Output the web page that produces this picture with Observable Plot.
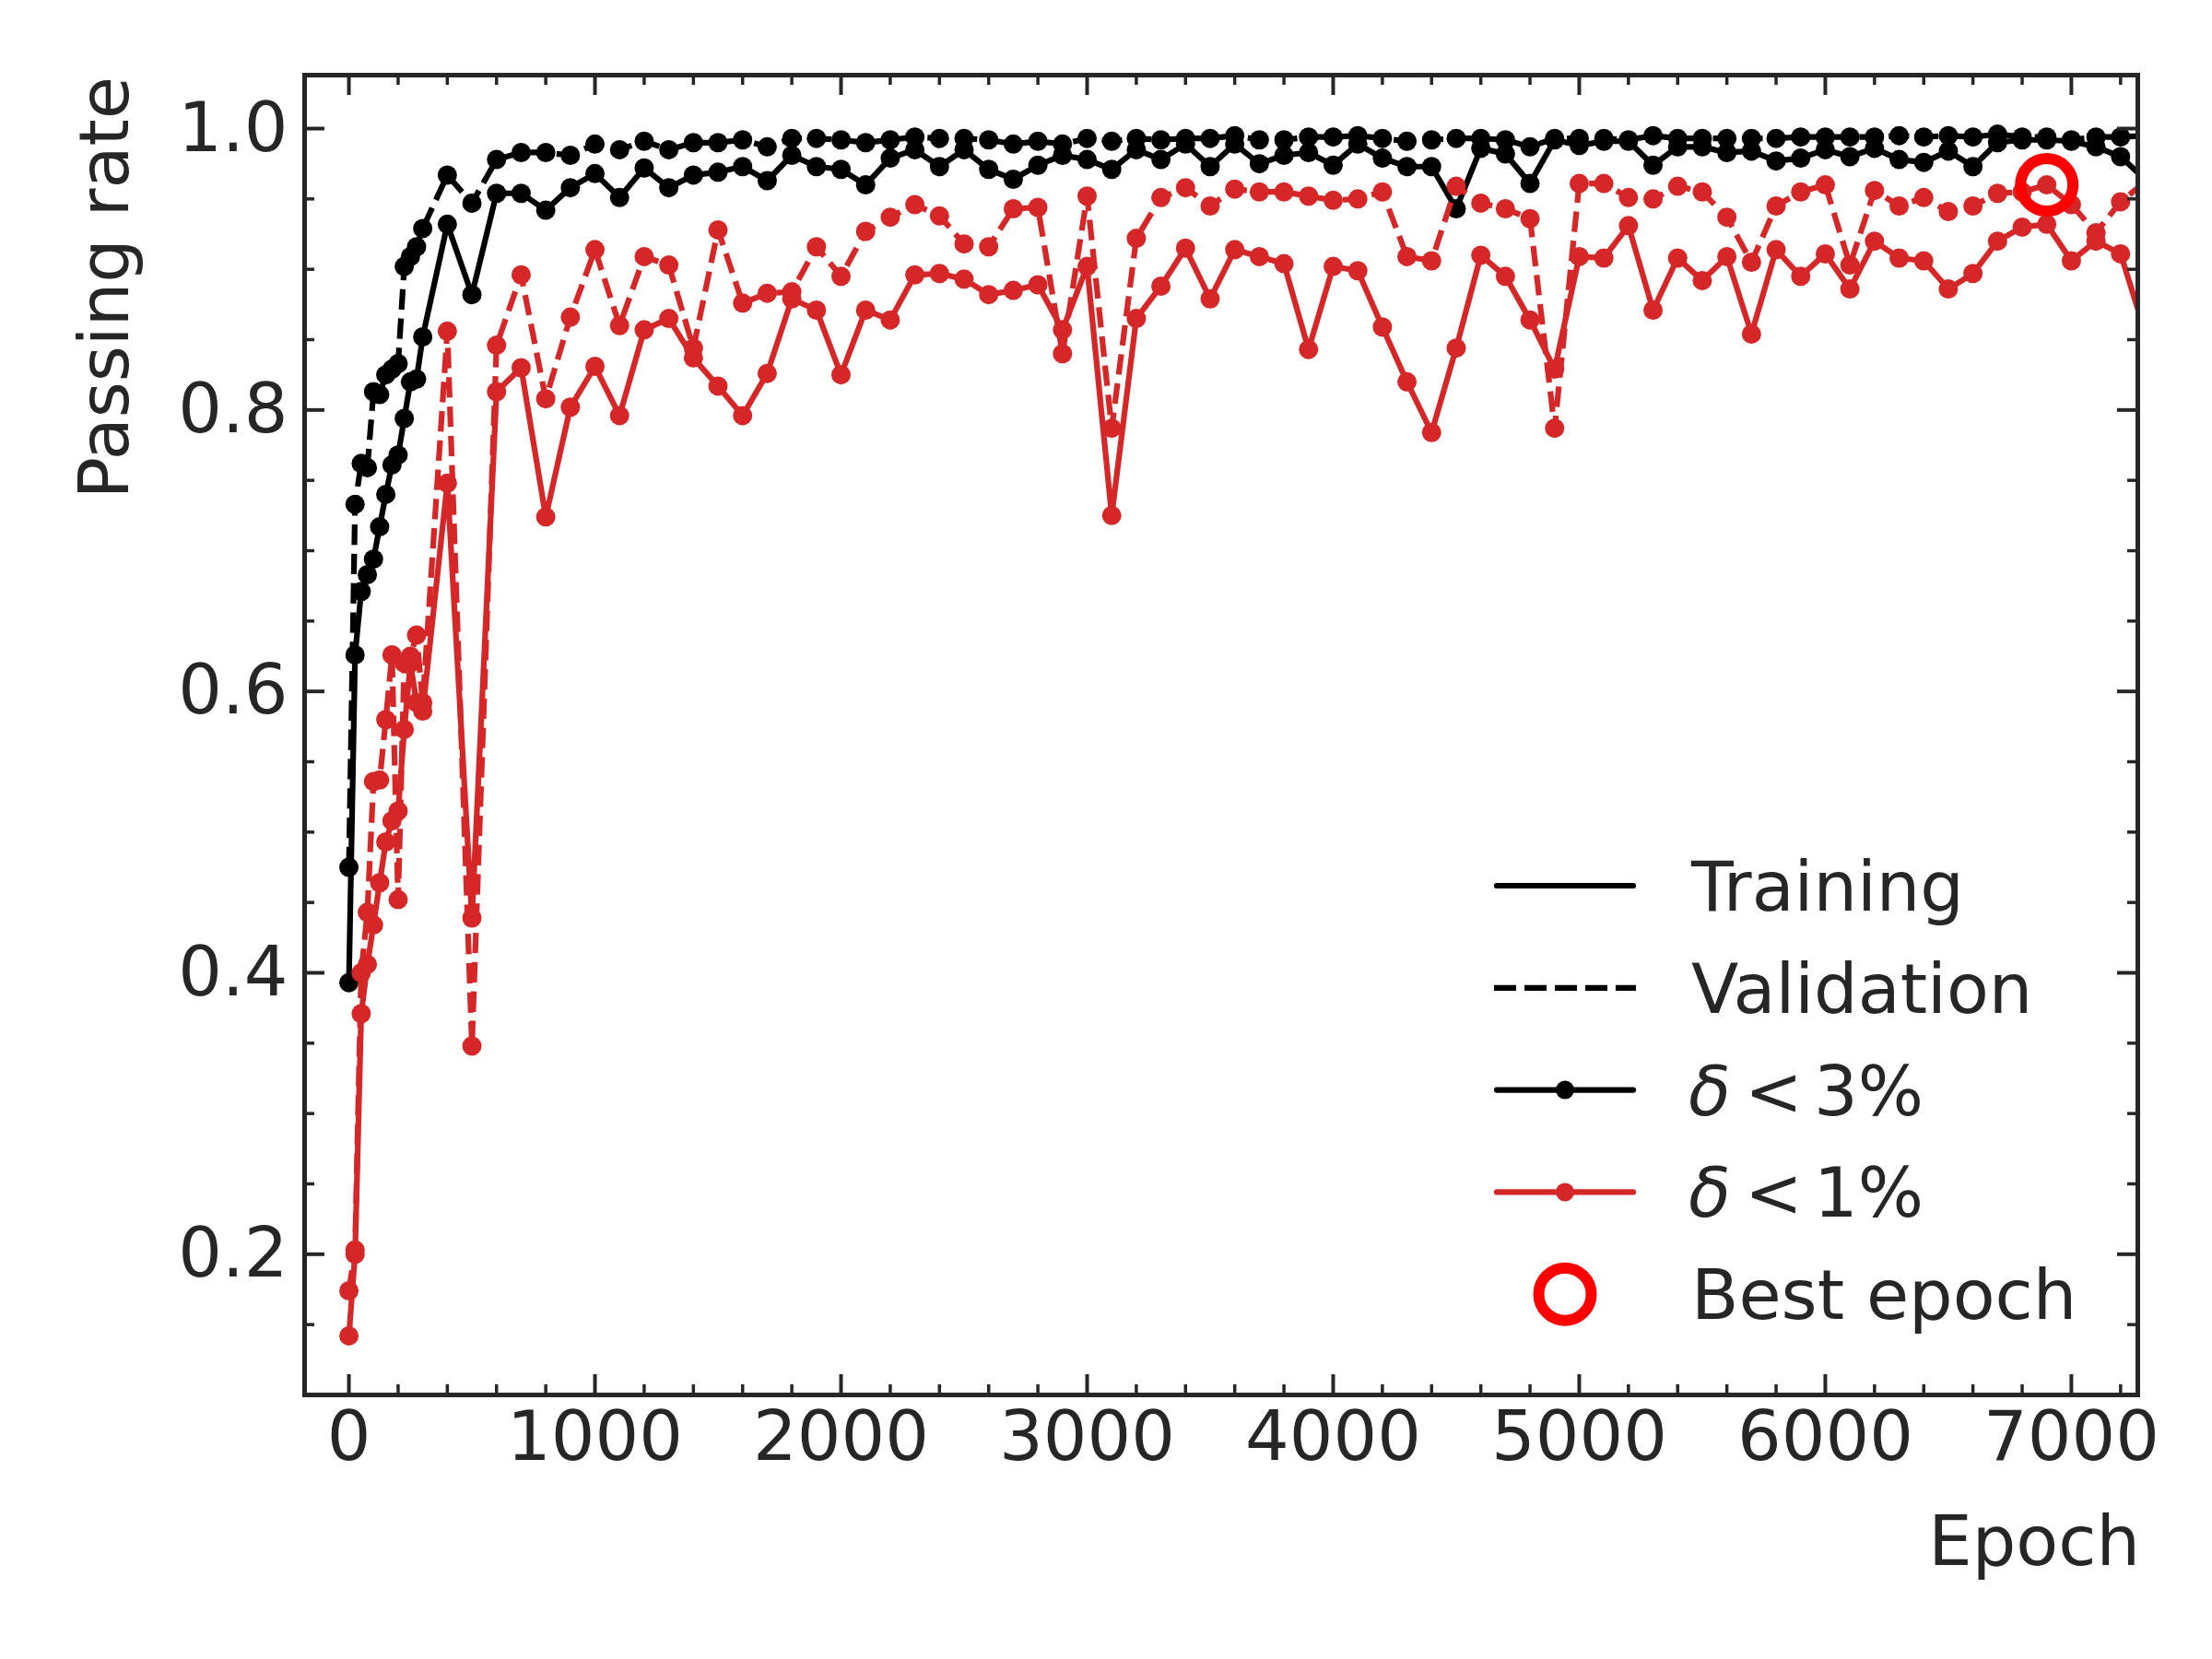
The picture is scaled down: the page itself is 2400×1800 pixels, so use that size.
<!DOCTYPE html>
<html>
<head>
<meta charset="utf-8">
<script src="https://cdn.jsdelivr.net/npm/d3@7"></script>
<script src="https://cdn.jsdelivr.net/npm/@observablehq/plot@0.6"></script>
<style>
  html, body { margin: 0; padding: 0; background: #ffffff; }
  #chart svg { display: block; }
</style>
</head>
<body>
<div id="chart"></div>
<script>
// ---------------- data ----------------
const epochs = [0, 25, 50, 75, 100, 125, 150, 175, 200, 225, 250, 275, 300, 400, 500,
  600, 700, 800, 900, 1000, 1100, 1200, 1300, 1400, 1500, 1600, 1700, 1800, 1900, 2000, 2100, 2200, 2300,
  2400, 2500, 2600, 2700, 2800, 2900, 3000, 3100, 3200, 3300, 3400, 3500, 3600, 3700, 3800, 3900, 4000,
  4100, 4200, 4300, 4400, 4500, 4600, 4700, 4800, 4900, 5000, 5100, 5200, 5300, 5400, 5500, 5600, 5700,
  5800, 5900, 6000, 6100, 6200, 6300, 6400, 6500, 6600, 6700, 6800, 6900, 7000, 7100, 7200, 7300];

// Training, delta < 3%
const train3 = [0.393, 0.626, 0.671, 0.683, 0.694, 0.717, 0.740, 0.761, 0.768, 0.794, 0.820, 0.822, 0.852, 0.932, 0.882,
  0.954, 0.954, 0.942, 0.958, 0.968, 0.951, 0.972, 0.958, 0.967, 0.969, 0.973, 0.963, 0.981, 0.973, 0.971, 0.960, 0.979, 0.985,
  0.973, 0.985, 0.971, 0.964, 0.974, 0.981, 0.978, 0.971, 0.985, 0.978, 0.989, 0.973, 0.989, 0.975, 0.981, 0.983, 0.974,
  0.989, 0.979, 0.973, 0.973, 0.943, 0.986, 0.982, 0.961, 0.992, 0.988, 0.991, 0.991, 0.974, 0.987, 0.987, 0.983, 0.984,
  0.977, 0.979, 0.985, 0.980, 0.986, 0.978, 0.976, 0.984, 0.973, 0.990, 0.992, 0.992, 0.991, 0.987, 0.980, 0.964];

// Validation, delta < 3%
const val3 = [0.475, 0.733, 0.762, 0.759, 0.813, 0.811, 0.825, 0.829, 0.833, 0.902, 0.909, 0.916, 0.929, 0.967, 0.947,
  0.978, 0.983, 0.983, 0.981, 0.989, 0.985, 0.991, 0.985, 0.990, 0.990, 0.992, 0.987, 0.993, 0.993, 0.992, 0.990, 0.992, 0.994,
  0.993, 0.993, 0.992, 0.989, 0.991, 0.989, 0.993, 0.991, 0.993, 0.992, 0.993, 0.993, 0.995, 0.992, 0.992, 0.994, 0.994,
  0.995, 0.993, 0.991, 0.992, 0.993, 0.993, 0.992, 0.987, 0.993, 0.993, 0.993, 0.992, 0.995, 0.993, 0.993, 0.993, 0.993,
  0.993, 0.994, 0.994, 0.994, 0.994, 0.995, 0.994, 0.995, 0.994, 0.996, 0.994, 0.994, 0.992, 0.994, 0.994, 0.995];

// Training, delta < 1%
const train1 = [0.142, 0.200, 0.371, 0.406, 0.434, 0.464, 0.493, 0.508, 0.515, 0.573, 0.620, 0.592, 0.586, 0.748, 0.439,
  0.813, 0.830, 0.724, 0.802, 0.831, 0.796, 0.857, 0.865, 0.837, 0.817, 0.796, 0.826, 0.879, 0.871, 0.825, 0.871, 0.864, 0.896,
  0.897, 0.893, 0.882, 0.885, 0.889, 0.857, 0.902, 0.725, 0.865, 0.888, 0.915, 0.879, 0.914, 0.909, 0.904, 0.843, 0.902,
  0.899, 0.859, 0.820, 0.784, 0.844, 0.910, 0.895, 0.864, 0.829, 0.909, 0.908, 0.931, 0.871, 0.908, 0.892, 0.909, 0.854,
  0.914, 0.895, 0.911, 0.886, 0.920, 0.908, 0.906, 0.886, 0.897, 0.920, 0.930, 0.932, 0.906, 0.920, 0.911, 0.855];

// Validation, delta < 1%
const val1 = [0.174, 0.203, 0.400, 0.443, 0.536, 0.537, 0.580, 0.626, 0.452, 0.620, 0.625, 0.640, 0.592, 0.856, 0.348,
  0.846, 0.896, 0.808, 0.866, 0.914, 0.860, 0.909, 0.903, 0.844, 0.928, 0.876, 0.883, 0.884, 0.916, 0.895, 0.927, 0.937, 0.946,
  0.938, 0.918, 0.916, 0.943, 0.944, 0.840, 0.952, 0.787, 0.922, 0.951, 0.958, 0.945, 0.957, 0.955, 0.955, 0.952, 0.949,
  0.950, 0.955, 0.909, 0.906, 0.959, 0.947, 0.943, 0.936, 0.787, 0.961, 0.961, 0.951, 0.950, 0.959, 0.955, 0.937, 0.905,
  0.945, 0.955, 0.960, 0.903, 0.956, 0.945, 0.951, 0.941, 0.945, 0.954, 0.955, 0.960, 0.946, 0.926, 0.948, 0.962];

const bestEpoch = [6900];
const bestValue = [0.960];

const xMajorTicks = [0, 1000, 2000, 3000, 4000, 5000, 6000, 7000];
const xMinorTicks = [200, 400, 600, 800, 1200, 1400, 1600, 1800, 2200, 2400, 2600, 2800, 3200, 3400, 3600, 3800,
  4200, 4400, 4600, 4800, 5200, 5400, 5600, 5800, 6200, 6400, 6600, 6800, 7200];
const yMajorTicks = [0.2, 0.4, 0.6, 0.8, 1.0];
const yMinorTicks = [0.1, 0.15, 0.25, 0.3, 0.35, 0.45, 0.5, 0.55, 0.65, 0.7, 0.75, 0.85, 0.9, 0.95];

const legendLabels = ["Training", "Validation", "δ<3%", "δ<1%", "Best epoch"];

// ---------------- layout / style ----------------
const W = 2400, H = 1800;
const mL = 330, mR = 81, mT = 81, mB = 287;
const plotW = W - mL - mR, plotH = H - mT - mB;
const INK = "#262626";
const RED = "#d62728";
const FONT = "DejaVu Sans";
const FS = 75;
const LW = 6.2;
const DASH = "22.2,9.6";
const majorLen = 22, minorLen = 11;

const rows = arr => epochs.map((e, i) => ({epoch: e, v: arr[i]}));

const series = [
  {data: rows(train3), stroke: "#000000", dash: null},
  {data: rows(val3), stroke: "#000000", dash: DASH},
  {data: rows(train1), stroke: RED, dash: null},
  {data: rows(val1), stroke: RED, dash: DASH}
];

const seriesMarks = [];
for (const s of series) {
  seriesMarks.push(Plot.line(s.data, {
    x: "epoch", y: "v", stroke: s.stroke, strokeWidth: LW,
    strokeDasharray: s.dash || undefined,
    strokeLinecap: s.dash ? "butt" : "round", strokeLinejoin: "round", clip: true
  }));
  seriesMarks.push(Plot.dot(s.data, {x: "epoch", y: "v", r: 10.5, fill: s.stroke, stroke: "none", clip: true}));
}

const best = bestEpoch.map((e, i) => ({epoch: e, v: bestValue[i]}));

const chart = Plot.plot({
  width: W, height: H,
  marginLeft: mL, marginRight: mR, marginTop: mT, marginBottom: mB,
  style: {fontFamily: FONT, fontSize: FS + "px", color: INK, background: "#ffffff", overflow: "visible"},
  x: {domain: [-180, 7270]},
  y: {domain: [0.1, 1.038]},
  marks: [
    ...seriesMarks,
    Plot.dot(best, {x: "epoch", y: "v", r: 28.5, fill: "none", stroke: "#ff0000", strokeWidth: 12}),
    // inward ticks on all four sides
    Plot.ruleX(xMajorTicks, {x: d => d, stroke: INK, strokeWidth: 4, insetTop: plotH - majorLen}),
    Plot.ruleX(xMajorTicks, {x: d => d, stroke: INK, strokeWidth: 4, insetBottom: plotH - majorLen}),
    Plot.ruleX(xMinorTicks, {x: d => d, stroke: INK, strokeWidth: 3.5, insetTop: plotH - minorLen}),
    Plot.ruleX(xMinorTicks, {x: d => d, stroke: INK, strokeWidth: 3.5, insetBottom: plotH - minorLen}),
    Plot.ruleY(yMajorTicks, {y: d => d, stroke: INK, strokeWidth: 4, insetRight: plotW - majorLen}),
    Plot.ruleY(yMajorTicks, {y: d => d, stroke: INK, strokeWidth: 4, insetLeft: plotW - majorLen}),
    Plot.ruleY(yMinorTicks, {y: d => d, stroke: INK, strokeWidth: 3.5, insetRight: plotW - minorLen}),
    Plot.ruleY(yMinorTicks, {y: d => d, stroke: INK, strokeWidth: 3.5, insetLeft: plotW - minorLen}),
    Plot.frame({stroke: INK, strokeWidth: 5}),
    Plot.axisX({anchor: "bottom", ticks: xMajorTicks, tickSize: 0, tickPadding: 17,
      tickFormat: d => String(d), label: null, fontSize: FS, fill: INK}),
    Plot.axisY({anchor: "left", ticks: yMajorTicks, tickSize: 0, tickPadding: 18,
      tickFormat: d => d.toFixed(1), label: null, fontSize: FS, fill: INK})
  ]
});

document.getElementById("chart").appendChild(chart);

// ---------------- axis titles and legend ----------------
const svg = d3.select(chart);
svg.append("text")
  .attr("transform", `translate(139,83) rotate(-90)`)
  .attr("text-anchor", "end")
  .attr("font-family", FONT).attr("font-size", FS).attr("fill", INK)
  .text("Passing rate");
svg.append("text")
  .attr("x", 2322).attr("y", 1698)
  .attr("text-anchor", "end")
  .attr("font-family", FONT).attr("font-size", FS).attr("fill", INK)
  .text("Epoch");

const lg = svg.append("g").attr("font-family", FONT).attr("font-size", FS).attr("fill", INK)
  .attr("text-anchor", "start");
const hx0 = 1621, hx1 = 1775, hxm = (hx0 + hx1) / 2, tx = 1835, ly0 = 961, ldy = 110.8;
const legendStyles = [
  {kind: "line", stroke: "#000000", dash: null, dot: false},
  {kind: "line", stroke: "#000000", dash: "24,9", dot: false},
  {kind: "line", stroke: "#000000", dash: null, dot: true},
  {kind: "line", stroke: RED, dash: null, dot: true},
  {kind: "ring"}
];
legendLabels.forEach((lab, i) => {
  const cy = ly0 + i * ldy;
  const st = legendStyles[i];
  if (st.kind === "line") {
    const ln = lg.append("line").attr("x1", hx0 + (st.dash ? 0 : 3)).attr("x2", hx1 - (st.dash ? 0 : 3))
      .attr("y1", cy).attr("y2", cy)
      .attr("stroke", st.stroke).attr("stroke-width", LW)
      .attr("stroke-linecap", st.dash ? "butt" : "round");
    if (st.dash) ln.attr("stroke-dasharray", st.dash);
    if (st.dot) lg.append("circle").attr("cx", hxm).attr("cy", cy).attr("r", 10).attr("fill", st.stroke);
  } else {
    lg.append("circle").attr("cx", hxm).attr("cy", cy).attr("r", 28.5)
      .attr("fill", "none").attr("stroke", "#ff0000").attr("stroke-width", 12);
  }
  const t = lg.append("text").attr("y", cy + 27).attr("text-anchor", "start");
  if (lab.startsWith("δ")) {
    const rest = lab.slice(2); // e.g. "3%"
    t.append("tspan").attr("x", tx - 3).attr("font-style", "italic").text("δ");
    t.append("tspan").attr("x", tx + 58).text("<");
    t.append("tspan").attr("x", tx + 133).text(rest);
  } else {
    t.attr("x", tx).text(lab);
  }
});
</script>
</body>
</html>
